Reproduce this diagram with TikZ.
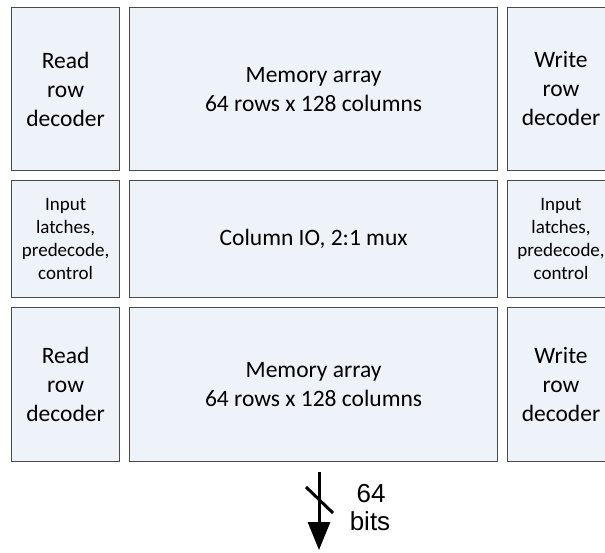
\documentclass[tikz,border=0pt]{standalone}
\usepackage{fontspec}
\setmainfont{Carlito}
\newfontfamily\arialfont{Liberation Sans}
\usetikzlibrary{arrows.meta}
\definecolor{boxfill}{HTML}{EEF2F9}
\definecolor{boxline}{HTML}{4A4A4A}
\begin{document}
\begin{tikzpicture}[x=1pt,y=-1pt,
  blk/.style={draw=boxline,fill=boxfill,line width=1.2pt,inner sep=0pt,anchor=north west,align=center},
  bigtxt/.style={font=\fontsize{23.5}{29}\selectfont},
  smalltxt/.style={font=\fontsize{19}{23}\selectfont},
  lbltxt/.style={font=\arialfont\fontsize{26}{28}\selectfont,anchor=base}]
\useasboundingbox (0,0) rectangle (605,552);
\clip (0,0) rectangle (605,552);
% row 1
\node[blk,bigtxt,minimum width=108pt,minimum height=163pt] (rd1) at (11,7) {Read\\row\\decoder};
\node[blk,bigtxt,minimum width=368pt,minimum height=163pt] (ma1) at (129,7) {Memory array\\64 rows x 128 columns};
\node[blk,minimum width=108pt,minimum height=163pt] (wd1) at (507,7) {};
\node[bigtxt,align=center] (wd1t) at (561,88.5) {Write\\row\\decoder};
% row 2
\node[blk,smalltxt,minimum width=108pt,minimum height=117pt] (il1) at (11,180) {Input\\latches,\\predecode,\\control};
\node[blk,bigtxt,minimum width=368pt,minimum height=117pt] (cio) at (129,180) {Column IO, 2:1 mux};
\node[blk,minimum width=108pt,minimum height=117pt] (il2) at (507,180) {};
\node[smalltxt,align=center] (il2t) at (561,238.5) {Input\\latches,\\predecode,\\control};
% row 3
\node[blk,bigtxt,minimum width=108pt,minimum height=154pt] (rd2) at (11,307) {Read\\row\\decoder};
\node[blk,bigtxt,minimum width=368pt,minimum height=154pt] (ma2) at (129,307) {Memory array\\64 rows x 128 columns};
\node[blk,minimum width=108pt,minimum height=154pt] (wd2) at (507,307) {};
\node[bigtxt,align=center] (wd2t) at (561,384) {Write\\row\\decoder};
% output arrow
\coordinate (as) at (319,472);
\coordinate (ae) at (319,550);
\draw[line width=3pt,-{Triangle[length=28pt,width=22pt]}] (as) -- (ae);
\coordinate (s1) at (306,487);
\coordinate (s2) at (333,513);
\draw[line width=3pt] (s1) -- (s2);
\node[lbltxt] (lbl1) at (371,502) {64};
\node[lbltxt] (lbl2) at (370,530) {bits};
\end{tikzpicture}
\end{document}
